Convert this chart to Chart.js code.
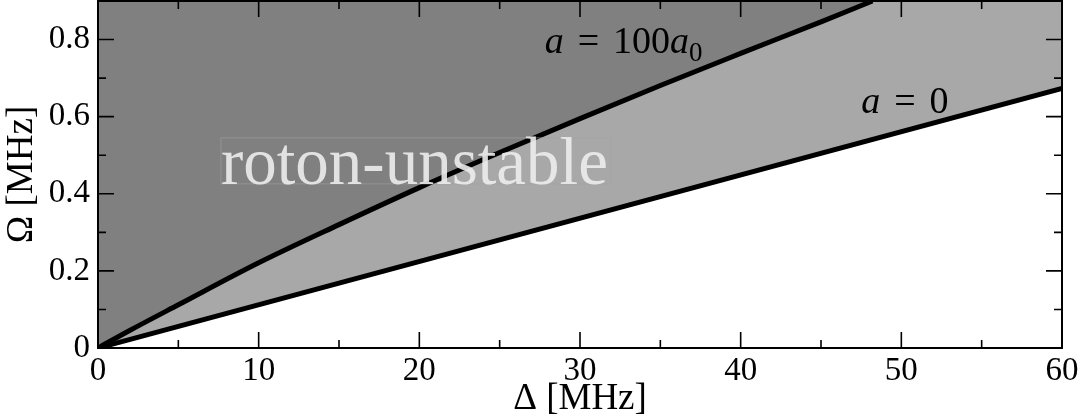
<!DOCTYPE html>
<html>
<head>
<meta charset="utf-8">
<script src="https://cdn.jsdelivr.net/npm/chart.js@4/dist/chart.umd.min.js"></script>
<style>
  html, body { margin: 0; padding: 0; background: #fff; }
  #wrap { width: 1081px; height: 416px; }
</style>
</head>
<body>
<div id="wrap"><canvas id="phaseChart"></canvas></div>
<script>
// boundary for a = 100 a0 (curved)
const deltaUpper = [0, 2, 5, 10, 15, 20, 25, 30, 35, 40, 45, 48.2];
const omegaUpper = [0, 0.046, 0.112, 0.221, 0.320, 0.416, 0.507, 0.595, 0.681, 0.764, 0.846, 0.9];
// boundary for a = 0 (straight)
const deltaLower = [0, 60];
const omegaLower = [0, 0.673];

const xTicks = [0, 10, 20, 30, 40, 50, 60];
const xMinor = [5, 15, 25, 35, 45, 55];
const yTicks = [0, 0.2, 0.4, 0.6, 0.8];
const yTickLabels = ['0', '0.2', '0.4', '0.6', '0.8'];
const yMinor = [0.1, 0.3, 0.5, 0.7];

const serif = '"Liberation Serif", "DejaVu Serif", serif';

function toPoints(xs, ys) {
  return xs.map((x, i) => ({ x: x, y: ys[i] }));
}

// inward ticks on all four sides + frame
const frameTicks = {
  id: 'frameTicks',
  afterDatasetsDraw(chart) {
    const ctx = chart.ctx;
    const a = chart.chartArea;
    const xs = chart.scales.x, ys = chart.scales.y;
    ctx.save();
    ctx.strokeStyle = '#000';
    ctx.lineWidth = 1.6;
    ctx.beginPath();
    const tick = (vals, len) => {
      vals.forEach(v => {
        const px = xs.getPixelForValue(v);
        ctx.moveTo(px, a.bottom); ctx.lineTo(px, a.bottom - len);
        ctx.moveTo(px, a.top); ctx.lineTo(px, a.top + len);
      });
    };
    const tickY = (vals, len) => {
      vals.forEach(v => {
        const py = ys.getPixelForValue(v);
        ctx.moveTo(a.left, py); ctx.lineTo(a.left + len, py);
        ctx.moveTo(a.right, py); ctx.lineTo(a.right - len, py);
      });
    };
    tick(xTicks, 16);
    tick(xMinor, 8);
    tickY(yTicks, 16);
    tickY(yMinor, 8);
    ctx.stroke();
    ctx.lineWidth = 2;
    ctx.strokeRect(a.left, a.top, a.right - a.left, a.bottom - a.top);
    ctx.restore();
  },
  afterDraw(chart) {
    const ctx = chart.ctx;
    const xs = chart.scales.x, ys = chart.scales.y;
    ctx.save();
    // roton-unstable label with faint box
    const bx = xs.getPixelForValue(7.65), by = ys.getPixelForValue(0.545);
    ctx.strokeStyle = 'rgba(160,160,160,0.6)';
    ctx.lineWidth = 1;
    ctx.strokeRect(bx, by, 390, 46);
    ctx.fillStyle = 'rgba(236,236,236,0.9)';
    ctx.font = '67px ' + serif;
    ctx.textBaseline = 'alphabetic';
    ctx.fillText('roton-unstable', bx, by + 46);

    // curve labels
    const mathLabel = (x, y, parts) => {
      let cx = x;
      parts.forEach(p => {
        ctx.font = (p.it ? 'italic ' : '') + p.size + 'px ' + serif;
        ctx.fillText(p.t, cx, y + (p.dy || 0));
        cx += ctx.measureText(p.t).width + (p.gap || 0);
      });
    };
    ctx.fillStyle = '#000';
    mathLabel(xs.getPixelForValue(27.8), ys.getPixelForValue(0.765), [
      { t: 'a', it: true, size: 38, gap: 14 },
      { t: '=', size: 38, gap: 14 },
      { t: '100', size: 38 },
      { t: 'a', it: true, size: 38 },
      { t: '0', size: 27, dy: 8 }
    ]);
    mathLabel(xs.getPixelForValue(47.5), ys.getPixelForValue(0.61), [
      { t: 'a', it: true, size: 38, gap: 14 },
      { t: '=', size: 38, gap: 14 },
      { t: '0', size: 38 }
    ]);
    ctx.restore();
  }
};

new Chart(document.getElementById('phaseChart'), {
  type: 'scatter',
  data: {
    datasets: [
      {
        label: 'a = 100a0',
        data: toPoints(deltaUpper, omegaUpper),
        showLine: true,
        cubicInterpolationMode: 'monotone',
        borderColor: '#000',
        borderWidth: 5,
        pointRadius: 0,
        fill: 'end',
        backgroundColor: '#808080'
      },
      {
        label: 'a = 0',
        data: toPoints(deltaLower, omegaLower),
        showLine: true,
        borderColor: '#000',
        borderWidth: 5,
        pointRadius: 0,
        fill: 'end',
        backgroundColor: '#a8a8a8'
      }
    ]
  },
  options: {
    responsive: true,
    maintainAspectRatio: false,
    animation: false,
    layout: { padding: { left: 0, top: 1, right: 19, bottom: 0 } },
    plugins: {
      legend: { display: false },
      tooltip: { enabled: false }
    },
    scales: {
      x: {
        type: 'linear',
        min: 0,
        max: 60,
        afterBuildTicks: s => { s.ticks = xTicks.map(v => ({ value: v })); },
        afterFit: s => { s.height = 68; s.paddingLeft = 0; s.paddingRight = 0; },
        grid: { display: false, drawTicks: false },
        border: { display: false },
        ticks: {
          color: '#000',
          padding: 4,
          maxRotation: 0,
          font: { family: serif, size: 33 },
          callback: v => String(v)
        },
        title: {
          display: true,
          text: 'Δ [MHz]',
          color: '#000',
          padding: { top: 0, bottom: -5 },
          font: { family: serif, size: 37 }
        }
      },
      y: {
        type: 'linear',
        min: 0,
        max: 0.9,
        afterBuildTicks: s => { s.ticks = yTicks.map(v => ({ value: v })); },
        afterFit: s => { s.width = 98; s.paddingTop = 0; s.paddingBottom = 0; },
        grid: { display: false, drawTicks: false },
        border: { display: false },
        ticks: {
          color: '#000',
          padding: 8,
          font: { family: serif, size: 33 },
          callback: v => yTickLabels[yTicks.indexOf(v)] ?? ''
        },
        title: {
          display: true,
          text: 'Ω [MHz]',
          color: '#000',
          padding: { top: 0, bottom: 0 },
          font: { family: serif, size: 37 }
        }
      }
    }
  },
  plugins: [frameTicks]
});
</script>
</body>
</html>
